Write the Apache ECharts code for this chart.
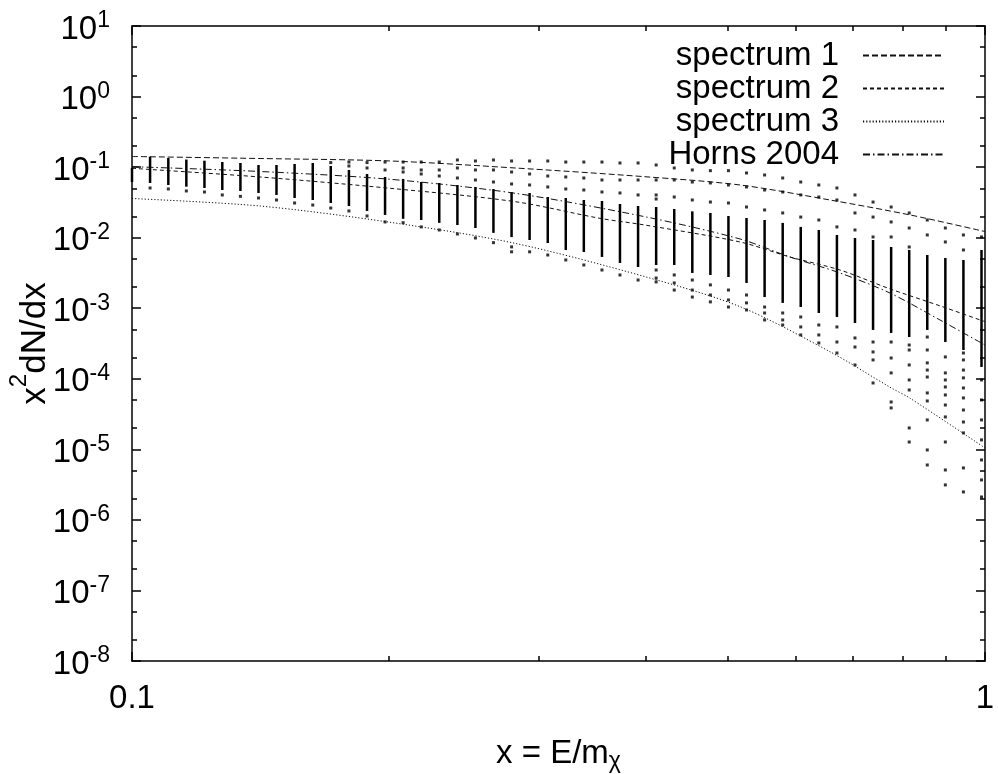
<!DOCTYPE html>
<html><head><meta charset="utf-8">
<script src="https://cdn.jsdelivr.net/npm/echarts@6/dist/echarts.min.js"></script>
<style>html,body{margin:0;padding:0;background:#fff}#c{width:998px;height:774px}</style>
</head><body><div id="c"></div>
<script>
const FONT = 'Liberation Sans, Arial, sans-serif';

// ---- tick values / labels ----
const xMajorTicks = [0.1, 1];
const xTickLabels = ['0.1', '1'];
const xMinorTicks = [0.2, 0.3, 0.4, 0.5, 0.6, 0.7, 0.8, 0.9];
const yMajorTicks = [1e-8, 1e-7, 1e-6, 1e-5, 1e-4, 1e-3, 1e-2, 1e-1, 1, 10];
const yTickExponents = ['-8', '-7', '-6', '-5', '-4', '-3', '-2', '-1', '0', '1'];
const yMinorTicks = [2e-8, 5e-8, 2e-7, 5e-7, 2e-6, 5e-6, 2e-5, 5e-5, 2e-4, 5e-4, 2e-3, 5e-3, 0.02, 0.05, 0.2, 0.5, 2, 5];

// ---- curves ----
const spec1X = [0.1, 0.1413, 0.2007, 0.2812, 0.3994, 0.5162, 0.658, 0.8168, 1.0];
const spec1Y = [0.1414, 0.1324, 0.1222, 0.0972, 0.0731, 0.0558, 0.0342, 0.0210, 0.0122];
const spec2X = [0.1, 0.1413, 0.2007, 0.2812, 0.3536, 0.3994, 0.5162, 0.5907, 0.676, 0.7738, 0.8857, 1.0];
const spec2Y = [0.0962, 0.0725, 0.0501, 0.0324, 0.0188, 0.0151, 0.00869, 0.00532, 0.00348, 0.00188, 0.00108, 0.000645];
const spec3X = [0.1, 0.1413, 0.2007, 0.2812, 0.3994, 0.5162, 0.658, 0.7738, 0.8168, 1.0];
const spec3Y = [0.0359, 0.0281, 0.01652, 0.00832, 0.0028, 0.001052, 0.000242, 0.000076, 0.000053, 0.00001045];
const hornsX = [0.1, 0.1413, 0.2007, 0.2812, 0.3994, 0.5162, 0.5907, 0.676, 0.7738, 0.8857, 1.0];
const hornsY = [0.1014, 0.0867, 0.0672, 0.0426, 0.0198, 0.00958, 0.00532, 0.00316, 0.00164, 0.000681, 0.000301];

// ---- scatter columns ----
const colX = [0.1, 0.105, 0.1103, 0.1158, 0.1216, 0.1276, 0.1340, 0.1407, 0.1477, 0.1551, 0.1629, 0.1710, 0.1796, 0.1886, 0.1980, 0.2079, 0.2183, 0.2292, 0.2407, 0.2527, 0.2653, 0.2786, 0.2925, 0.3072, 0.3225, 0.3386, 0.3556, 0.3733, 0.3920, 0.4116, 0.4322, 0.4538, 0.4765, 0.5003, 0.5253, 0.5516, 0.5792, 0.6081, 0.6385, 0.6705, 0.7040, 0.7392, 0.7762, 0.8150, 0.8557, 0.8985, 0.9434, 0.9906];
const colDenseHi = [0.0972, 0.1405, 0.1346, 0.128, 0.1233, 0.1182, 0.1144, 0.1072, 0.1072, 0.1107, 0.1144, 0.1037, 0.0911, 0.0799, 0.0725, 0.068, 0.0615, 0.0596, 0.0558, 0.0523, 0.0490, 0.0444, 0.0430, 0.0377, 0.0365, 0.0342, 0.0331, 0.0300, 0.0281, 0.0272, 0.0255, 0.0236, 0.0224, 0.0203, 0.0190, 0.0178, 0.0162, 0.0142, 0.01285, 0.0109, 0.0099, 0.00927, 0.00738, 0.00669, 0.00568, 0.00515, 0.00483, 0.00669];
const colDenseLo = [0.0615, 0.0596, 0.0558, 0.0528, 0.0506, 0.0474, 0.0459, 0.0430, 0.0403, 0.0365, 0.0342, 0.0310, 0.0281, 0.0239, 0.0210, 0.0185, 0.0178, 0.0162, 0.0151, 0.0137, 0.0117, 0.0102, 0.00927, 0.0084, 0.00669, 0.00627, 0.00533, 0.00438, 0.00384, 0.0041, 0.0041, 0.00316, 0.00296, 0.00277, 0.00228, 0.00144, 0.00119, 0.00104, 0.000856, 0.000752, 0.000618, 0.000492, 0.000446, 0.000391, 0.000492, 0.000332, 0.000256, 0.000147];
const colDots = [
  [],
  [0.0506], [0.0490], [0.0459], [0.0444], [0.0403], [0.0385], [0.0365], [0.0342], [0.0310], [0.0290],
  [0.116, 0.0263],
  [0.118, 0.1037, 0.0239],
  [0.116, 0.0972, 0.0203],
  [0.118, 0.0911, 0.0167],
  [0.118, 0.0972, 0.0853, 0.0163],
  [0.118, 0.0911, 0.0799, 0.0142],
  [0.118, 0.0911, 0.0748, 0.01285],
  [0.1262, 0.0972, 0.0701, 0.01128],
  [0.1221, 0.0911, 0.0657, 0.0099],
  [0.1262, 0.0911, 0.0615, 0.0085],
  [0.1221, 0.0853, 0.0577, 0.0074, 0.0063],
  [0.1221, 0.0799, 0.0558, 0.0063],
  [0.1221, 0.0748, 0.0523, 0.00568],
  [0.118, 0.0725, 0.0490, 0.00483],
  [0.118, 0.0701, 0.0474, 0.0041],
  [0.118, 0.0657, 0.0444, 0.00348],
  [0.1144, 0.0657, 0.0430, 0.00296],
  [0.1144, 0.0657, 0.0403, 0.00251],
  [0.1072, 0.0657, 0.0403, 0.0353, 0.00348, 0.00268, 0.00236],
  [0.0972, 0.0657, 0.0377, 0.00296, 0.00228, 0.00181],
  [0.0911, 0.0615, 0.0342, 0.00251, 0.00181, 0.00144],
  [0.0891, 0.0596, 0.0320, 0.00214, 0.00154, 0.00123],
  [0.0891, 0.0558, 0.0310, 0.00181, 0.00131, 0.00104],
  [0.0826, 0.0523, 0.0272, 0.00154, 0.00119, 0.000945],
  [0.0773, 0.0474, 0.0247, 0.00104, 0.000856, 0.000682],
  [0.0701, 0.0444, 0.0224, 0.000856, 0.000682, 0.000579],
  [0.0615, 0.0403, 0.0196, 0.000752, 0.000543, 0.000418],
  [0.0558, 0.0377, 0.0178, 0.000579, 0.000418, 0.000322],
  [0.0506, 0.0342, 0.0142, 0.000543, 0.000332, 0.000232],
  [0.0403, 0.0224, 0.01285, 0.000379, 0.000282, 0.000157],
  [0.0320, 0.0196, 0.01023, 0.000332, 0.00024, 0.000185, 0.0000872],
  [0.0272, 0.0167, 0.01023, 0.000332, 0.000197, 0.000121, 0.0000469, 0.0000386],
  [0.0224, 0.01372, 0.00738, 0.000301, 0.000256, 0.000157, 0.0000962, 0.0000694, 0.0000201, 0.0000127],
  [0.0178, 0.01092, 0.000391, 0.000256, 0.000168, 0.000133, 0.000106, 0.000063, 0.0000485, 0.0000261, 0.0000098, 0.000006],
  [0.01372, 0.00869, 0.000204, 0.000121, 0.0000962, 0.0000766, 0.000059, 0.0000425, 0.0000288, 0.0000127, 0.0000051, 0.00000313],
  [0.01092, 0.00669, 0.000232, 0.000185, 0.000133, 0.000103, 0.0000741, 0.0000535, 0.0000361, 0.0000244, 0.0000171, 0.00000545, 0.00000249],
  [0.01023, 0.0000962, 0.0000501, 0.0000261, 0.0000136, 0.00000707, 0.00000368, 0.00000211]
];

const legendNames = ['spectrum 1', 'spectrum 2', 'spectrum 3', 'Horns 2004'];

// ---- build ----
const pairs = (xs, ys) => xs.map((x, i) => [x, ys[i]]);
const denseData = colX.map((x, i) => [x, colDenseHi[i], colDenseLo[i]]);
const dotData = [];
colX.forEach((x, i) => colDots[i].forEach(y => dotData.push([x, y])));

function nearestIdx(arr, v) {
  let bi = 0, bd = Infinity;
  arr.forEach((a, i) => { const d = Math.abs(Math.log10(a) - Math.log10(v)); if (d < bd) { bd = d; bi = i; } });
  return bi;
}

const GRID = { left: 132, right: 13, top: 26, bottom: 113, containLabel: false, outerBoundsMode: 'none' };
const AX = { color: '#000', width: 1.5 };

function baseAxis(extra) {
  return Object.assign({
    type: 'log', logBase: 10,
    splitLine: { show: false }, minorTick: { show: false }, minorSplitLine: { show: false },
    axisLine: { show: false, onZero: false },
    axisLabel: { show: false },
    axisPointer: { show: false },
    nameMoveOverlap: false
  }, extra);
}
function xA(grid, pos, ticks, len, extra) {
  return baseAxis(Object.assign({
    gridIndex: grid, position: pos, min: 0.1, max: 1,
    axisTick: { show: true, inside: true, length: len, customValues: ticks, lineStyle: AX }
  }, extra || {}));
}
function yA(grid, pos, ticks, len, extra) {
  return baseAxis(Object.assign({
    gridIndex: grid, position: pos, min: 1e-8, max: 10,
    axisTick: { show: true, inside: true, length: len, customValues: ticks, lineStyle: AX }
  }, extra || {}));
}

const lineStyleBase = { color: '#111', width: 1 };

const option = {
  animation: false,
  backgroundColor: '#fff',
  grid: [Object.assign({}, GRID), Object.assign({}, GRID)],
  xAxis: [
    xA(0, 'bottom', xMajorTicks, 9, {
      axisLine: { show: true, onZero: false, lineStyle: AX },
      axisLabel: {
        show: true, customValues: xMajorTicks, margin: 21, showMinLabel: true, showMaxLabel: true,
        fontFamily: FONT, fontSize: 33, color: '#000',
        formatter: v => xTickLabels[nearestIdx(xMajorTicks, v)]
      },
      name: '{b|x = E/m}{sub|χ}', nameLocation: 'middle', nameGap: 76,
      nameTextStyle: {
        fontFamily: FONT, fontSize: 33, color: '#000',
        rich: {
          b: { fontFamily: FONT, fontSize: 33, lineHeight: 33, color: '#000' },
          sub: { fontFamily: FONT, fontSize: 23, lineHeight: 23, padding: [16, 0, 0, 0], color: '#000' }
        }
      }
    }),
    xA(0, 'top', xMajorTicks, 9, { axisLine: { show: true, onZero: false, lineStyle: AX } }),
    xA(1, 'bottom', xMinorTicks, 5),
    xA(1, 'top', xMinorTicks, 5)
  ],
  yAxis: [
    yA(0, 'left', yMajorTicks, 9, {
      axisLine: { show: true, onZero: false, lineStyle: AX },
      axisLabel: {
        show: true, customValues: yMajorTicks, margin: 22, showMinLabel: true, showMaxLabel: true,
        fontFamily: FONT, fontSize: 33, color: '#000',
        formatter: v => '{b|10}{s|' + yTickExponents[nearestIdx(yMajorTicks, v)] + '}',
        rich: {
          b: { fontFamily: FONT, fontSize: 33, lineHeight: 33, padding: [7, 0, 0, 0], color: '#000' },
          s: { fontFamily: FONT, fontSize: 23, lineHeight: 23, padding: [0, 0, 10, 0], color: '#000' }
        }
      },
      name: '{b|x}{s|2}{b|dN/dx}', nameLocation: 'middle', nameGap: 84,
      nameTextStyle: {
        fontFamily: FONT, fontSize: 35, color: '#000',
        rich: {
          b: { fontFamily: FONT, fontSize: 35, lineHeight: 35, padding: [10, 0, 0, 0], color: '#000' },
          s: { fontFamily: FONT, fontSize: 24, lineHeight: 24, padding: [0, 0, 23, 0], color: '#000' }
        }
      }
    }),
    yA(0, 'right', yMajorTicks, 9, { axisLine: { show: true, onZero: false, lineStyle: AX } }),
    yA(1, 'left', yMinorTicks, 5),
    yA(1, 'right', yMinorTicks, 5)
  ],
  legend: {
    data: legendNames,
    orient: 'vertical', align: 'right', right: 48, top: 34,
    itemWidth: 81, itemHeight: 2, itemGap: 0,
    selectedMode: false,
    itemStyle: { opacity: 0 },
    textStyle: { fontFamily: FONT, fontSize: 33, color: '#000', padding: [0, 19, 0, 0] }
  },
  series: [
    {
      type: 'custom', xAxisIndex: 0, yAxisIndex: 0, silent: true, z: 2,
      data: denseData, encode: { x: 0, y: [1, 2] },
      renderItem: (params, api) => {
        const p1 = api.coord([api.value(0), api.value(1)]);
        const p2 = api.coord([api.value(0), api.value(2)]);
        return { type: 'rect', shape: { x: p1[0] - 1.25, y: p1[1], width: 2.5, height: p2[1] - p1[1] }, style: { fill: '#000' } };
      }
    },
    {
      type: 'scatter', xAxisIndex: 0, yAxisIndex: 0, silent: true, z: 2,
      data: dotData, symbol: 'rect', symbolSize: 3, itemStyle: { color: '#000' }
    },
    {
      type: 'line', name: legendNames[0], data: pairs(spec1X, spec1Y), symbol: 'none', smooth: 0.3, z: 5,
      lineStyle: Object.assign({}, lineStyleBase, { type: [6, 3] }), itemStyle: { color: '#111' }
    },
    {
      type: 'line', name: legendNames[1], data: pairs(spec2X, spec2Y), symbol: 'none', smooth: 0.3, z: 5,
      lineStyle: Object.assign({}, lineStyleBase, { type: [4, 3] }), itemStyle: { color: '#111' }
    },
    {
      type: 'line', name: legendNames[2], data: pairs(spec3X, spec3Y), symbol: 'none', smooth: 0.3, z: 5,
      lineStyle: Object.assign({}, lineStyleBase, { type: [1.2, 2] }), itemStyle: { color: '#111' }
    },
    {
      type: 'line', name: legendNames[3], data: pairs(hornsX, hornsY), symbol: 'none', smooth: 0.3, z: 5,
      lineStyle: Object.assign({}, lineStyleBase, { type: [7, 3, 1.5, 3] }), itemStyle: { color: '#111' }
    }
  ]
};

const chart = echarts.init(document.getElementById('c'), null, { renderer: 'canvas' });
chart.setOption(option);
</script>
</body></html>
